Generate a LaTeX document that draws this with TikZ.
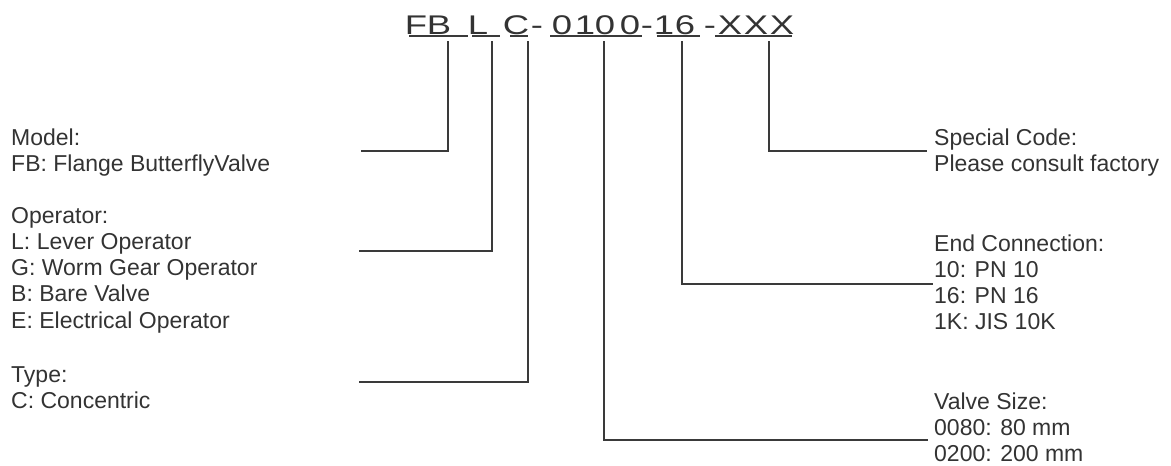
\documentclass[tikz,border=0pt]{standalone}
\usepackage{fontspec}
\setmainfont{Liberation Sans}
\definecolor{ink}{HTML}{333333}
\definecolor{wire}{HTML}{3A3A3A}
\newcommand\widech[1]{\scalebox{1.35}[1]{#1}}
\tikzset{
  lbl/.style={inner sep=0pt, anchor=base west, text=ink,
    font=\fontsize{23}{26.3}\selectfont},
  codech/.style={inner sep=0pt, anchor=base, text=ink,
    font=\fontsize{27}{27}\selectfont},
  uline/.style={draw=wire, line width=1.6pt},
  conn/.style={draw=wire, line width=1.8pt}
}
\begin{document}
\begin{tikzpicture}[x=1pt,y=-1pt]
\useasboundingbox (0,0) rectangle (1171,466);
% code characters
\foreach \ch/\xx [count=\i] in {F/416,B/439,L/478,C/516,-/537,0/562,1/585,0/605,0/630,-/647,1/664,6/685,-/710,X/730,X/756,X/782}
  \node[codech] (k\i) at (\xx,34) {\widech{\ch}};
% underlines
\draw[uline] (409,36) -- (468,36);
\draw[uline] (472,36) -- (500,36);
\draw[uline] (510,36) -- (528,36);
\draw[uline] (550,36) -- (642,36);
\draw[uline] (657,36) -- (700,36);
\draw[uline] (715,36) -- (792,36);
% label blocks
\node[lbl] (model) at (11,145) {\begin{tabular}[t]{@{}l@{}}Model:\\FB: Flange ButterflyValve\end{tabular}};
\node[lbl] (oper) at (11,223) {\begin{tabular}[t]{@{}l@{}}Operator:\\L: Lever Operator\\G: Worm Gear Operator\\B: Bare Valve\\E: Electrical Operator\end{tabular}};
\node[lbl] (type) at (11,382) {\begin{tabular}[t]{@{}l@{}}Type:\\C: Concentric\end{tabular}};
\node[lbl] (special) at (934,145) {\begin{tabular}[t]{@{}l@{}}Special Code:\\Please consult factory\end{tabular}};
\node[lbl] (endc) at (934,251) {\begin{tabular}[t]{@{}l@{}}End Connection:\\10: PN 10\\16: PN 16\\1K: JIS 10K\end{tabular}};
\node[lbl] (vsize) at (934,409) {\begin{tabular}[t]{@{}l@{}}Valve Size:\\0080: 80 mm\\0200: 200 mm\end{tabular}};
% connector ends
\coordinate (tfb) at (448,41);
\coordinate (tl) at (492,41);
\coordinate (tc) at (528,41);
\coordinate (tsz) at (604,41);
\coordinate (tpn) at (682,41);
\coordinate (tx) at (769,41);
\coordinate (efb) at (361,151);
\coordinate (el) at (359,251);
\coordinate (ec) at (359,382);
\coordinate (esz) at (928,440);
\coordinate (epn) at (933,284);
\coordinate (ex) at (927,151);
% connectors
\draw[conn] (tfb) |- (efb);
\draw[conn] (tl) |- (el);
\draw[conn] (tc) |- (ec);
\draw[conn] (tsz) |- (esz);
\draw[conn] (tpn) |- (epn);
\draw[conn] (tx) |- (ex);
\end{tikzpicture}
\end{document}
